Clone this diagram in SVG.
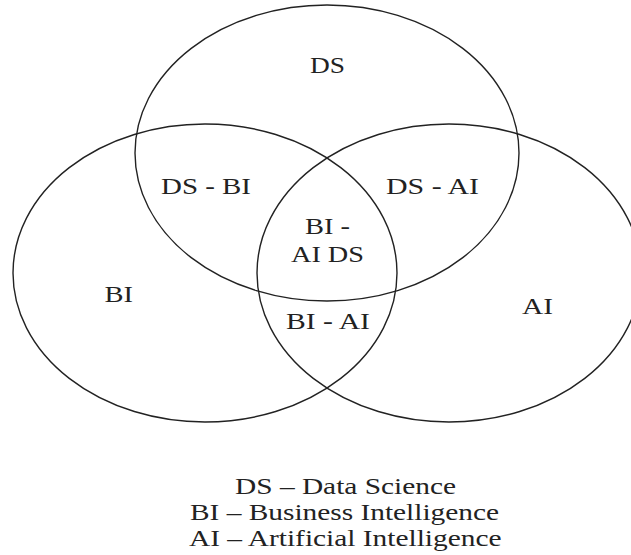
<svg xmlns="http://www.w3.org/2000/svg" width="631" height="555" viewBox="0 0 631 555">
  <style>
    .set { fill: none; stroke: #222; stroke-width: 1.4; }
    .lbl { font-family: "Liberation Serif", "Times New Roman", serif; font-size: 24px; fill: #222; }
  </style>
  <rect x="0" y="0" width="631" height="555" fill="#fff"/>
  <g id="ds">
    <ellipse class="set" cx="327" cy="153" rx="192" ry="148"/>
    <text class="lbl" x="310" y="73" textLength="35" lengthAdjust="spacingAndGlyphs">DS</text>
  </g>
  <g id="bi">
    <ellipse class="set" cx="205" cy="273" rx="192" ry="149"/>
    <text class="lbl" x="104.5" y="302" textLength="28.5" lengthAdjust="spacingAndGlyphs">BI</text>
  </g>
  <g id="ai">
    <ellipse class="set" cx="449" cy="273" rx="192" ry="149"/>
    <text class="lbl" x="522" y="314" textLength="31" lengthAdjust="spacingAndGlyphs">AI</text>
  </g>
  <g id="ds-bi">
    <text class="lbl" x="161" y="194" textLength="90" lengthAdjust="spacingAndGlyphs">DS - BI</text>
  </g>
  <g id="ds-ai">
    <text class="lbl" x="386" y="194" textLength="93" lengthAdjust="spacingAndGlyphs">DS - AI</text>
  </g>
  <g id="bi-ai-ds">
    <text class="lbl" x="305" y="234" textLength="45" lengthAdjust="spacingAndGlyphs">BI -</text>
    <text class="lbl" x="291" y="262" textLength="73" lengthAdjust="spacingAndGlyphs">AI DS</text>
  </g>
  <g id="bi-ai">
    <text class="lbl" x="286" y="328.5" textLength="84" lengthAdjust="spacingAndGlyphs">BI - AI</text>
  </g>
  <g id="legend">
    <text class="lbl" x="235" y="493.5" textLength="221" lengthAdjust="spacingAndGlyphs">DS – Data Science</text>
    <text class="lbl" x="190" y="520" textLength="309" lengthAdjust="spacingAndGlyphs">BI – Business Intelligence</text>
    <text class="lbl" x="189" y="545.5" textLength="312.5" lengthAdjust="spacingAndGlyphs">AI – Artificial Intelligence</text>
  </g>
</svg>
